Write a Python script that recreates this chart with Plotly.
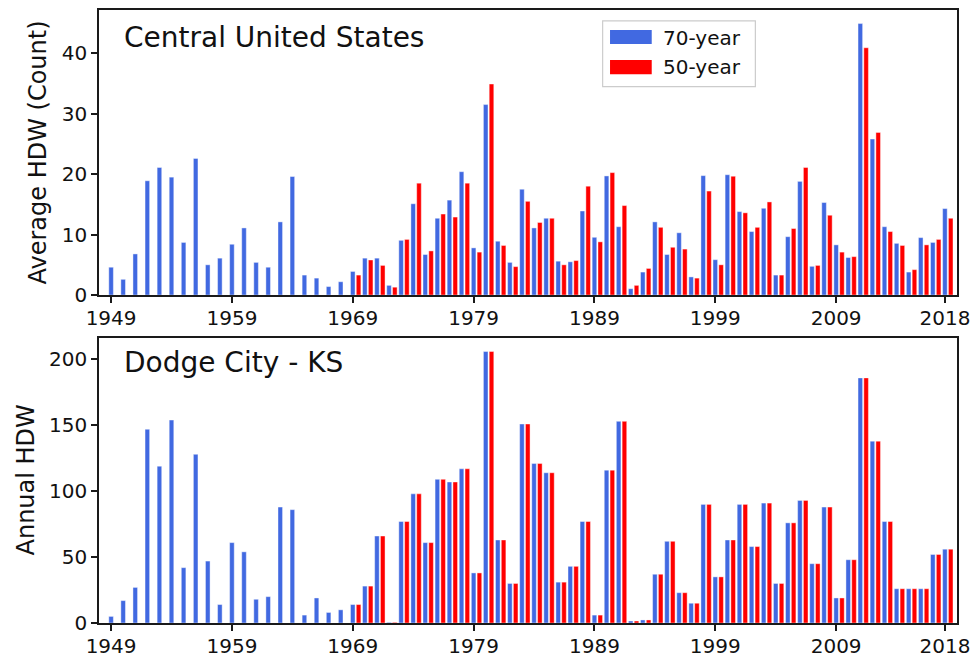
import plotly.graph_objects as go
from plotly.subplots import make_subplots

# Years covered by each record
years_70 = list(range(1949, 2019))
years_50 = list(range(1969, 2019))

# Central United States: average heat-wave days (count)
central_70 = [
    4.6, 2.6, 6.8, 18.9, 21.1, 19.5, 8.7, 22.6, 5.0, 6.1,          # 1949-1958
    8.4, 11.1, 5.4, 4.6, 12.1, 19.6, 3.3, 2.8, 1.4, 2.2,           # 1959-1968
    3.9, 6.1, 6.1, 1.6, 9.05, 15.1, 6.7, 12.7, 15.7, 20.4,         # 1969-1978
    7.8, 31.5, 8.9, 5.4, 17.5, 11.1, 12.7, 5.6, 5.5, 13.9,         # 1979-1988
    9.55, 19.7, 11.3, 1.05, 3.8, 12.1, 6.7, 10.3, 3.0, 19.75,      # 1989-1998
    5.85, 19.9, 13.8, 10.5, 14.35, 3.3, 9.65, 18.8, 4.75, 15.3,    # 1999-2008
    8.3, 6.2, 44.9, 25.8, 11.3, 8.55, 3.8, 9.5, 8.7, 14.3,         # 2009-2018
]
central_50 = [
    3.3, 5.8, 4.9, 1.3, 9.2, 18.5, 7.3, 13.4, 12.9, 18.5,          # 1969-1978
    7.1, 34.9, 8.2, 4.7, 15.5, 12.0, 12.7, 5.0, 5.7, 18.0,         # 1979-1988
    8.8, 20.25, 14.8, 1.6, 4.4, 11.2, 7.9, 7.6, 2.8, 17.2,         # 1989-1998
    5.0, 19.65, 13.6, 11.2, 15.4, 3.3, 11.0, 21.1, 4.9, 13.2,      # 1999-2008
    7.1, 6.35, 40.9, 26.9, 10.5, 8.2, 4.2, 8.3, 9.2, 12.7,         # 2009-2018
]

# Dodge City, KS: annual heat-wave days
dodge_70 = [
    5, 17, 27, 147, 119, 154, 42, 128, 47, 14,                     # 1949-1958
    61, 54, 18, 20, 88, 86, 6, 19, 8, 10,                          # 1959-1968
    14, 28, 66, 0.5, 77, 98, 61, 109, 107, 117,                    # 1969-1978
    38, 206, 63, 30, 151, 121, 114, 31, 43, 77,                    # 1979-1988
    6, 116, 153, 1.5, 2.3, 37, 62, 23, 15, 90,                     # 1989-1998
    35, 63, 90, 58, 91, 30, 76, 93, 45, 88,                        # 1999-2008
    19, 48, 186, 138, 77, 26, 26, 26, 52, 56,                      # 2009-2018
]
dodge_50 = [
    14, 28, 66, 0.5, 77, 98, 61, 109, 107, 117,                    # 1969-1978
    38, 206, 63, 30, 151, 121, 114, 31, 43, 77,                    # 1979-1988
    6, 116, 153, 1.5, 2.3, 37, 62, 23, 15, 90,                     # 1989-1998
    35, 63, 90, 58, 91, 30, 76, 93, 45, 88,                        # 1999-2008
    19, 48, 186, 138, 77, 26, 26, 26, 52, 56,                      # 2009-2018
]

x_ticks = [1949, 1959, 1969, 1979, 1989, 1999, 2009, 2018]
panel_titles = ["Central United States", "Dodge City - KS"]
y_titles = ["Average HDW (Count)", "Annual HDW"]
series_names = ["70-year", "50-year"]

BLUE = "#4169E1"
RED = "#FF0000"
FONT = "DejaVu Sans"
BAR_W = 0.38
RED_SHIFT = 0.48

fig = make_subplots(rows=2, cols=1, vertical_spacing=0.07)

panels = [(central_70, central_50), (dodge_70, dodge_50)]
for i, (v70, v50) in enumerate(panels, start=1):
    fig.add_trace(go.Bar(
        x=years_70, y=v70, name=series_names[0],
        width=BAR_W, offset=-BAR_W / 2,
        marker=dict(color=BLUE, line=dict(color="rgba(255,255,255,0.7)", width=0.6)),
        showlegend=False,
    ), row=i, col=1)
    fig.add_trace(go.Bar(
        x=years_50, y=v50, name=series_names[1],
        width=BAR_W, offset=RED_SHIFT - BAR_W / 2,
        marker=dict(color=RED, line=dict(color="rgba(255,255,255,0.7)", width=0.6)),
        showlegend=False,
    ), row=i, col=1)

axis_common = dict(
    showline=True, mirror=True, linecolor="#1a1a1a", linewidth=1.5,
    ticks="outside", ticklen=6, tickwidth=1.5, tickcolor="#1a1a1a",
    showgrid=False, zeroline=False, automargin=False,
    tickfont=dict(family=FONT, size=20, color="#111"),
)

top_max = max(max(central_70), max(central_50)) * 1.05
bot_max = max(max(dodge_70), max(dodge_50)) * 1.05

fig.update_xaxes(range=[1948, 2019], tickvals=x_ticks, ticktext=[str(t) for t in x_ticks],
                 ticklabelstandoff=-2, **axis_common)
fig.update_yaxes(**axis_common)
fig.update_yaxes(range=[0, top_max], tickvals=[0, 10, 20, 30, 40], row=1, col=1)
fig.update_yaxes(range=[0, bot_max], tickvals=[0, 50, 100, 150, 200], row=2, col=1)

# Subplot domains
fig.update_layout(
    yaxis=dict(domain=[0.535, 1.0]),
    yaxis2=dict(domain=[0.0, 0.465]),
)

annotations = []
# Panel titles inside each plot
for (xr, yr, ytxt), txt in zip([("x domain", "y domain", 0.902), ("x2 domain", "y2 domain", 0.914)], panel_titles):
    annotations.append(dict(
        x=0.027, y=ytxt, xref=xr, yref=yr, text=txt, showarrow=False,
        xanchor="left", yanchor="middle",
        font=dict(family=FONT, size=28, color="#111"),
    ))
# Y-axis titles
for (xpx, yr), txt in zip([(38, "y domain"), (26, "y2 domain")], y_titles):
    annotations.append(dict(
        x=(xpx - 99) / 858, y=0.5, xref="paper", yref=yr, text=txt, showarrow=False,
        textangle=-90, xanchor="center", yanchor="middle",
        font=dict(family=FONT, size=24, color="#111"),
    ))

# Legend drawn in the upper panel
shapes = [
    dict(type="rect", xref="x domain", yref="y domain",
         x0=0.587, x1=0.765, y0=0.731, y1=0.962,
         line=dict(color="#cccccc", width=1.2), fillcolor="rgba(255,255,255,0.8)", layer="above"),
    dict(type="rect", xref="x domain", yref="y domain",
         x0=0.5956, x1=0.6442, y0=0.881, y1=0.930,
         line=dict(width=0), fillcolor=BLUE, layer="above"),
    dict(type="rect", xref="x domain", yref="y domain",
         x0=0.5956, x1=0.6442, y0=0.775, y1=0.825,
         line=dict(width=0), fillcolor=RED, layer="above"),
]
for ytxt, txt in zip([0.903, 0.801], series_names):
    annotations.append(dict(
        x=0.655, y=ytxt, xref="x domain", yref="y domain", text=txt, showarrow=False,
        xanchor="left", yanchor="middle",
        font=dict(family=FONT, size=20, color="#111"),
    ))

fig.update_layout(
    width=977, height=658,
    margin=dict(l=99, r=20, t=10, b=35),
    barmode="overlay",
    plot_bgcolor="white", paper_bgcolor="white",
    font=dict(family=FONT, color="#111"),
    annotations=annotations,
    shapes=shapes,
    showlegend=False,
)

fig.write_html("out.html")
